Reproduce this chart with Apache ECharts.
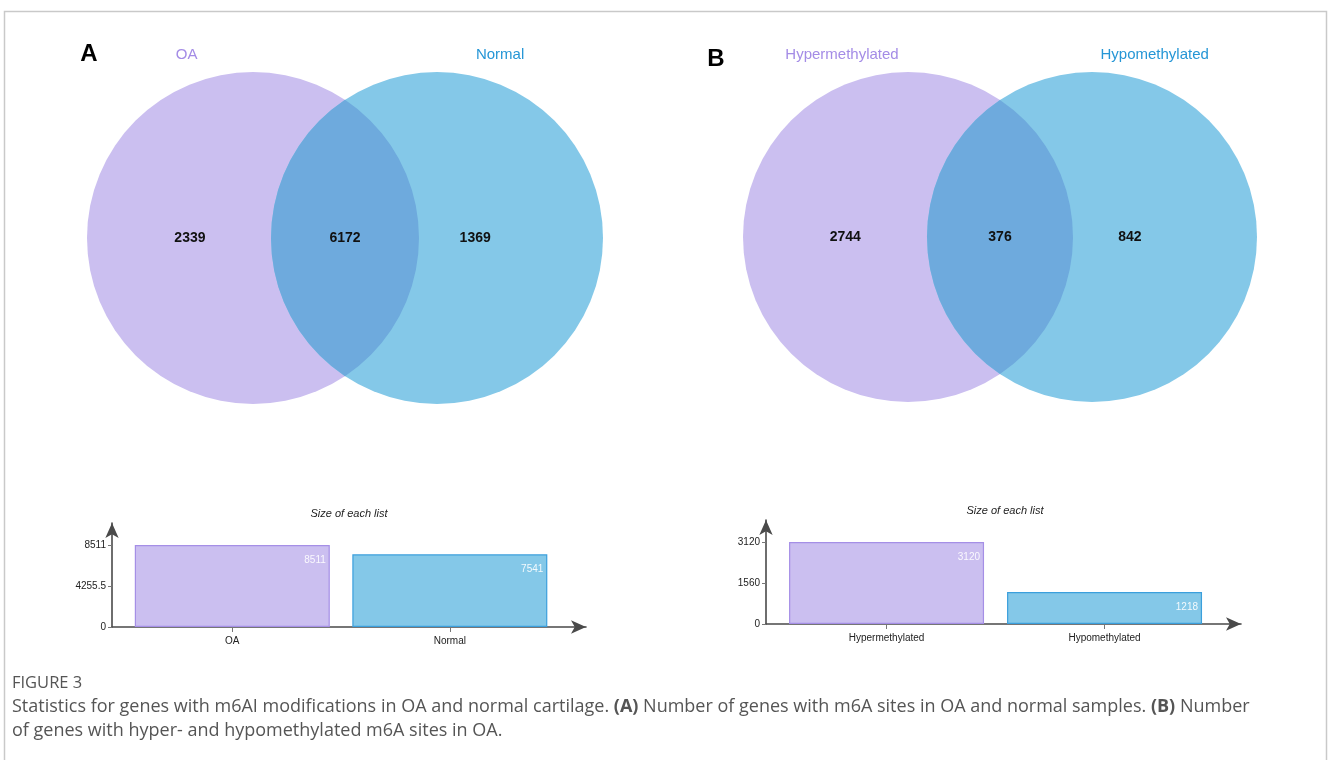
<!DOCTYPE html>
<html>
<head>
<meta charset="utf-8">
<script src="https://cdn.jsdelivr.net/npm/echarts@6/dist/echarts.min.js"></script>
<style>
  html, body { margin: 0; padding: 0; background: #ffffff; }
  #main { width: 1328px; height: 760px; }
</style>
</head>
<body>
<div id="main"></div>
<script>
// Panel A: genes carrying m6A sites in OA vs normal cartilage
const setsA = ['OA', 'Normal'];
const vennCountsA = [2339, 6172, 1369];      // OA only, shared, Normal only
const listSizesA = [8511, 7541];
const yTicksA = [0, 4255.5, 8511];

// Panel B: hyper- vs hypomethylated genes in OA
const setsB = ['Hypermethylated', 'Hypomethylated'];
const vennCountsB = [2744, 376, 842];        // Hyper only, shared, Hypo only
const listSizesB = [3120, 1218];
const yTicksB = [0, 1560, 3120];

const PURPLE = '#cbbff0', PURPLE_EDGE = '#a58fe6', PURPLE_TEXT = '#a48ce6';
const BLUE = '#84c8e8', BLUE_EDGE = '#3b9fdc', BLUE_TEXT = '#2596d6';
const SHARED = '#6eaadd';
const SANS = '"Liberation Sans", Arial, Helvetica, sans-serif';
const CAPTION = '"Open Sans", sans-serif';

// Region order in the data: left only (0), right only (2), shared (1) so the lens paints last
function vennData(counts) {
  return [0, 2, 1].map(function (region) { return { value: [region, counts[region]] }; });
}

function vennRenderer(sets) {
  return function (params, api) {
    const cs = params.coordSys;
    const r = cs.height / 2;
    const cy = cs.y + r;
    const c1 = cs.x + r;
    const c2 = cs.x + cs.width - r;
    const region = api.value(0);
    const count = api.value(1);
    const countText = function (x) {
      return {
        type: 'text',
        style: { text: String(count), x: x, y: cy, align: 'center', verticalAlign: 'middle',
                 font: 'bold 14px ' + SANS, fill: '#111111' }
      };
    };
    const setName = function (name, x, color) {
      return {
        type: 'text',
        style: { text: name, x: x, y: cs.y - 17, align: 'center', verticalAlign: 'middle',
                 font: '15px ' + SANS, fill: color }
      };
    };
    if (region === 0) {
      return { type: 'group', children: [
        { type: 'circle', shape: { cx: c1, cy: cy, r: r }, style: { fill: PURPLE } },
        countText(c1 - 0.38 * r),
        setName(sets[0], c1 - 0.4 * r, PURPLE_TEXT)
      ] };
    }
    if (region === 2) {
      return { type: 'group', children: [
        { type: 'circle', shape: { cx: c2, cy: cy, r: r }, style: { fill: BLUE } },
        countText(c2 + 0.23 * r),
        setName(sets[1], c2 + 0.38 * r, BLUE_TEXT)
      ] };
    }
    // shared lens between the two circles
    const mx = (c1 + c2) / 2;
    const half = (c2 - c1) / 2;
    const h = Math.sqrt(r * r - half * half);
    const path = 'M' + mx + ' ' + (cy - h) +
      ' A' + r + ' ' + r + ' 0 0 1 ' + mx + ' ' + (cy + h) +
      ' A' + r + ' ' + r + ' 0 0 1 ' + mx + ' ' + (cy - h) + ' Z';
    return { type: 'group', children: [
      { type: 'path', shape: { pathData: path }, style: { fill: SHARED } },
      countText(mx)
    ] };
  };
}

function barData(sizes) {
  return sizes.map(function (v, i) {
    return {
      value: [i, v],
      itemStyle: { color: i === 0 ? PURPLE : BLUE, borderColor: i === 0 ? PURPLE_EDGE : BLUE_EDGE, borderWidth: 1.2 }
    };
  });
}

function barXAxis(gridIndex, categories) {
  return {
    gridIndex: gridIndex, type: 'value', min: -0.553, max: 1.626,
    splitLine: { show: false },
    axisLine: { onZero: false, lineStyle: { color: '#4a4a4a', width: 1.6 }, symbol: ['none', 'arrow'], symbolSize: [10, 15] },
    axisTick: { customValues: [0, 1], length: 5, lineStyle: { color: '#777' } },
    axisLabel: { customValues: [0, 1], formatter: function (v) { return categories[Math.round(v)]; },
                 fontSize: 10, color: '#222', fontFamily: SANS, margin: 9 }
  };
}

function barYAxis(gridIndex, ticks) {
  return {
    gridIndex: gridIndex, type: 'value', min: 0,
    max: function (ext) { return ext.max * 1.268; },
    splitLine: { show: false },
    axisLine: { show: true, onZero: false, lineStyle: { color: '#4a4a4a', width: 1.6 },
                symbol: ['none', 'arrow'], symbolSize: [10, 15] },
    axisTick: { show: true, customValues: ticks, length: 4, lineStyle: { color: '#777' } },
    axisLabel: { customValues: ticks, formatter: function (v) { return String(v); },
                 fontSize: 10, color: '#222', fontFamily: SANS, margin: 6 }
  };
}

function hiddenAxis(gridIndex) {
  return { gridIndex: gridIndex, type: 'value', show: false, min: 0, max: 1 };
}

const barLabel = {
  show: true, position: 'insideTopRight', offset: [1, 5],
  color: 'rgba(255,255,255,0.9)', fontSize: 10, fontFamily: SANS,
  formatter: function (p) { return p.value[1]; }
};

const chart = echarts.init(document.getElementById('main'), null, { renderer: 'canvas' });

chart.setOption({
  backgroundColor: '#ffffff',
  animation: false,
  grid: [
    { left: 87, top: 72, width: 516, height: 332 },     // Venn A
    { left: 743, top: 72, width: 514, height: 330 },    // Venn B
    { left: 112, top: 523, width: 474, height: 104 },   // bars A
    { left: 766, top: 520, width: 475, height: 104 }    // bars B
  ],
  xAxis: [hiddenAxis(0), hiddenAxis(1), barXAxis(2, setsA), barXAxis(3, setsB)],
  yAxis: [hiddenAxis(0), hiddenAxis(1), barYAxis(2, yTicksA), barYAxis(3, yTicksB)],
  series: [
    { type: 'custom', xAxisIndex: 0, yAxisIndex: 0, silent: true,
      renderItem: vennRenderer(setsA), data: vennData(vennCountsA) },
    { type: 'custom', xAxisIndex: 1, yAxisIndex: 1, silent: true,
      renderItem: vennRenderer(setsB), data: vennData(vennCountsB) },
    { type: 'bar', xAxisIndex: 2, yAxisIndex: 2, barWidth: 195, silent: true,
      label: barLabel, data: barData(listSizesA) },
    { type: 'bar', xAxisIndex: 3, yAxisIndex: 3, barWidth: 195, silent: true,
      label: barLabel, data: barData(listSizesB) }
  ],
  graphic: [
    { type: 'rect', silent: true, z: -1,
      shape: { x: 4.5, y: 11.5, width: 1322, height: 800 },
      style: { fill: 'none', stroke: '#c9c9c9', lineWidth: 1.5 } },
    { type: 'text', x: 89, y: 54, style: { text: 'A', align: 'center', verticalAlign: 'middle',
      font: 'bold 24px ' + SANS, fill: '#000' } },
    { type: 'text', x: 716, y: 59, style: { text: 'B', align: 'center', verticalAlign: 'middle',
      font: 'bold 24px ' + SANS, fill: '#000' } },
    { type: 'text', x: 349, y: 514, style: { text: 'Size of each list', align: 'center', verticalAlign: 'middle',
      font: 'italic 11px ' + SANS, fill: '#222' } },
    { type: 'text', x: 1005, y: 511, style: { text: 'Size of each list', align: 'center', verticalAlign: 'middle',
      font: 'italic 11px ' + SANS, fill: '#222' } },
    { type: 'text', x: 12, y: 683, style: { text: 'FIGURE 3', verticalAlign: 'middle',
      font: '16.5px ' + CAPTION, fill: '#555' } },
    { type: 'text', x: 12, y: 707, style: {
      text: '{n|Statistics for genes with m6AI modifications in OA and normal cartilage. }{b|(A)}{n| Number of genes with m6A sites in OA and normal samples. }{b|(B)}{n| Number}',
      verticalAlign: 'middle',
      rich: { n: { font: '18px ' + CAPTION, fill: '#555' },
              b: { font: 'bold 18px ' + CAPTION, fill: '#555' } } } },
    { type: 'text', x: 12, y: 731, style: { text: 'of genes with hyper- and hypomethylated m6A sites in OA.',
      verticalAlign: 'middle', font: '18px ' + CAPTION, fill: '#555' } }
  ]
});
</script>
</body>
</html>
